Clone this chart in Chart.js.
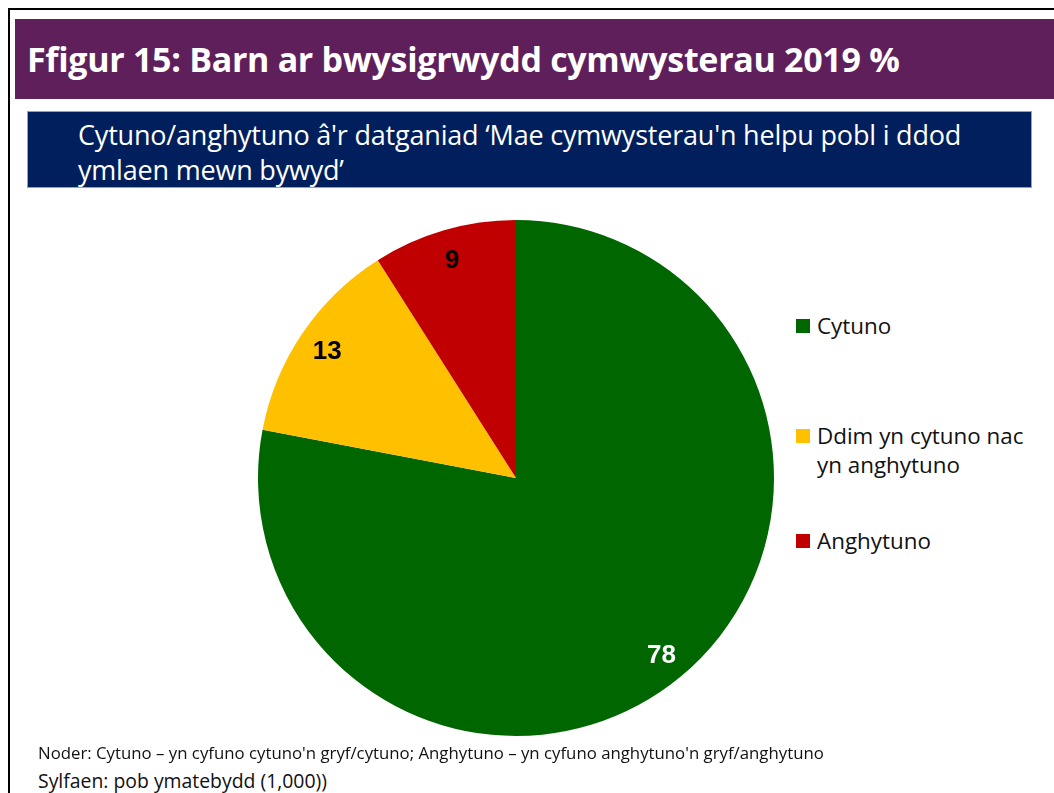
<!DOCTYPE html>
<html>
<head>
<meta charset="utf-8">
<script src="https://cdn.jsdelivr.net/npm/chart.js@4"></script>
<style>
  html,body{margin:0;padding:0;background:#fff;}
  #wrap{position:relative;width:1054px;height:793px;overflow:hidden;font-family:"Open Sans","Noto Sans",sans-serif;}
  #frameTop{position:absolute;left:8px;top:8px;width:1046px;height:2px;background:#000;}
  #frameLeft{position:absolute;left:8px;top:8px;width:2px;height:785px;background:#000;}
  #title{position:absolute;left:15px;top:19px;width:1039px;height:80px;background:#5F1F5B;color:#fff;
    font-weight:700;font-size:34px;line-height:80px;box-sizing:border-box;padding-left:12px;letter-spacing:-0.3px;}
  #subtitle{position:absolute;left:27px;top:111px;width:1005px;height:77px;background:#001F5C;border:1px solid #8EA3C4;
    box-sizing:border-box;color:#fff;font-size:27px;line-height:35px;padding:5px 0 0 50px;letter-spacing:-0.2px;}
  #pieBox{position:absolute;left:250px;top:212px;width:532px;height:532px;}
  #legend{position:absolute;left:796px;top:0;font-size:22.4px;color:#111;}
  .lg{position:absolute;white-space:nowrap;line-height:29px;}
  .lg i{position:absolute;left:0;top:8px;width:14px;height:14px;}
  .lg span{position:absolute;left:21px;top:0;}
  #note1{position:absolute;left:38px;top:741px;font-size:16.8px;color:#111;}
  #note2{position:absolute;left:38px;top:767px;font-size:19.4px;color:#111;}
</style>
</head>
<body>
<div id="wrap">
  <div id="frameTop"></div><div id="frameLeft"></div>
  <div id="title">Ffigur 15: Barn ar bwysigrwydd cymwysterau 2019 %</div>
  <div id="subtitle">Cytuno/anghytuno â'r datganiad ‘Mae cymwysterau'n helpu pobl i ddod<br>ymlaen mewn bywyd’</div>
  <div id="pieBox"><canvas id="pie"></canvas></div>
  <div id="legend"></div>
  <div id="note1">Noder: Cytuno – yn cyfuno cytuno'n gryf/cytuno; Anghytuno – yn cyfuno anghytuno'n gryf/anghytuno</div>
  <div id="note2">Sylfaen: pob ymatebydd (1,000))</div>
</div>
<script>
// categories & values
const categories = ['Cytuno', 'Ddim yn cytuno nac yn anghytuno', 'Anghytuno'];
const legendLines = [['Cytuno'], ['Ddim yn cytuno nac', 'yn anghytuno'], ['Anghytuno']];
const values = [78, 13, 9];
const colours = ['#006600', '#FFC000', '#C00000'];
const labelColours = ['#ffffff', '#000000', '#000000'];

// legend (HTML, laid out like the original)
const legendTops = [311, 421, 526];
const legendEl = document.getElementById('legend');
legendLines.forEach((lines, i) => {
  const d = document.createElement('div');
  d.className = 'lg';
  d.style.top = legendTops[i] + 'px';
  d.innerHTML = `<i style="background:${colours[i]}"></i><span>${lines.join('<br>')}</span>`;
  legendEl.appendChild(d);
});

// value labels inside slices
const sliceLabels = {
  id: 'sliceLabels',
  afterDatasetsDraw(chart) {
    const ctx = chart.ctx;
    const meta = chart.getDatasetMeta(0);
    ctx.save();
    ctx.font = 'bold 26px "Liberation Sans", Arial, sans-serif';
    ctx.textAlign = 'center';
    ctx.textBaseline = 'middle';
    meta.data.forEach((arc, i) => {
      const { x, y, startAngle, endAngle, outerRadius } = arc.getProps(['x','y','startAngle','endAngle','outerRadius'], true);
      const mid = (startAngle + endAngle) / 2;
      const r = outerRadius * 0.885;
      ctx.fillStyle = labelColours[i];
      ctx.fillText(String(values[i]), x + Math.cos(mid) * r, y + Math.sin(mid) * r + 2);
    });
    ctx.restore();
  }
};

new Chart(document.getElementById('pie'), {
  type: 'pie',
  data: { labels: categories, datasets: [{ data: values, backgroundColor: colours, borderWidth: 0 }] },
  options: {
    responsive: true, maintainAspectRatio: false, animation: false,
    layout: { padding: 8 },
    plugins: { legend: { display: false }, tooltip: { enabled: false } }
  },
  plugins: [sliceLabels]
});
</script>
</body>
</html>
